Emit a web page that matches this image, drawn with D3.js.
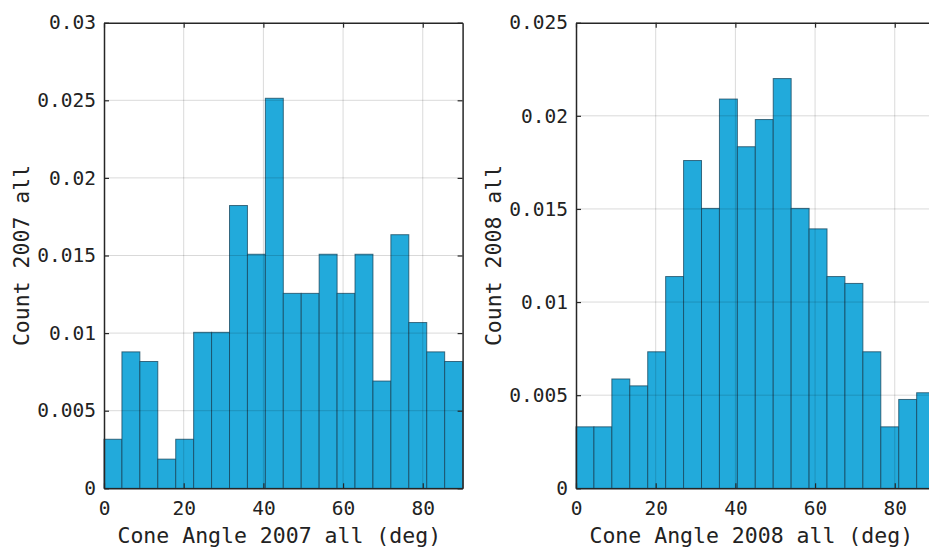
<!DOCTYPE html>
<html>
<head>
<meta charset="utf-8">
<script src="https://cdn.jsdelivr.net/npm/d3@7"></script>
<style>
  html, body { margin: 0; padding: 0; background: #fff; overflow: hidden; }
  svg { display: block; }
  text { font-family: "DejaVu Sans Mono", monospace; fill: #222; }
</style>
</head>
<body>
<div id="chart"></div>
<script>
// Bin edges (deg): 20 bins of 4.5 deg between 0 and 90
const binEdges = d3.range(0, 90.001, 4.5);

// Normalised counts
const values2007 = [
  0.00316, 0.00879, 0.00817, 0.00188, 0.00316, 0.01005, 0.01005, 0.01822,
  0.01508, 0.02513, 0.01256, 0.01256, 0.01508, 0.01256, 0.01508, 0.00691,
  0.01634, 0.01068, 0.00879, 0.00817,
];
const values2008 = [
  0.0033, 0.0033, 0.00587, 0.0055, 0.00733, 0.01137, 0.0176, 0.01503,
  0.0209, 0.01834, 0.0198, 0.022, 0.01503, 0.01393, 0.01137, 0.011,
  0.00733, 0.0033, 0.00477, 0.00513,
];

const xTicks = [0, 20, 40, 60, 80];
const yTicks2007 = [0, 0.005, 0.01, 0.015, 0.02, 0.025, 0.03];
const yTicks2008 = [0, 0.005, 0.01, 0.015, 0.02, 0.025];

const panels = [
  { values: values2007, yMax: 0.03, yTicks: yTicks2007, left: 104,
    yLabel: 'Count 2007 all', xLabel: 'Cone Angle 2007 all (deg)' },
  { values: values2008, yMax: 0.025, yTicks: yTicks2008, left: 576,
    yLabel: 'Count 2008 all', xLabel: 'Cone Angle 2008 all (deg)' },
];

const W = 929, H = 550;
const plotW = 358.6, plotTop = 22.7, plotBottom = 488.3;

const svg = d3.select('#chart')
  .append('svg')
  .attr('width', W)
  .attr('height', H);

const fmt = (d) => (d === 0 ? '0' : String(+d.toFixed(3)));

panels.forEach((p) => {
  const x = d3.scaleLinear().domain([0, 90]).range([p.left, p.left + plotW]);
  const y = d3.scaleLinear().domain([0, p.yMax]).range([plotBottom, plotTop]);

  const g = svg.append('g');

  // Bars
  g.selectAll('rect.bar')
    .data(p.values)
    .join('rect')
    .attr('class', 'bar')
    .attr('x', (d, i) => x(binEdges[i]))
    .attr('width', (d, i) => x(binEdges[i + 1]) - x(binEdges[i]))
    .attr('y', (d) => y(d))
    .attr('height', (d) => plotBottom - y(d))
    .attr('fill', '#22aadb')
    .attr('stroke', '#16435a')
    .attr('stroke-opacity', 0.75)
    .attr('stroke-width', 1);

  // Grid (on top, faint, like the original)
  g.selectAll('line.gx')
    .data(xTicks.slice(1))
    .join('line')
    .attr('class', 'gx')
    .attr('x1', (d) => x(d)).attr('x2', (d) => x(d))
    .attr('y1', plotTop).attr('y2', plotBottom)
    .attr('stroke', '#000').attr('stroke-opacity', 0.15);
  g.selectAll('line.gy')
    .data(p.yTicks.slice(1, -1))
    .join('line')
    .attr('class', 'gy')
    .attr('y1', (d) => y(d)).attr('y2', (d) => y(d))
    .attr('x1', p.left).attr('x2', p.left + plotW)
    .attr('stroke', '#000').attr('stroke-opacity', 0.15);

  // Axes with inward ticks
  const axisB = d3.axisBottom(x).tickValues(xTicks).tickSizeInner(-5).tickSizeOuter(0).tickFormat(fmt).tickPadding(13);
  const axisT = d3.axisTop(x).tickValues(xTicks).tickSizeInner(-5).tickSizeOuter(0).tickFormat('');
  const axisL = d3.axisLeft(y).tickValues(p.yTicks).tickSizeInner(-5).tickSizeOuter(0).tickFormat(fmt).tickPadding(8);
  const axisR = d3.axisRight(y).tickValues(p.yTicks).tickSizeInner(-5).tickSizeOuter(0).tickFormat('');

  const styleAxis = (sel) => {
    sel.select('.domain').attr('stroke', '#262626').attr('stroke-width', 1.5);
    sel.selectAll('.tick line').attr('stroke', '#262626').attr('stroke-width', 1.2);
    sel.selectAll('.tick text')
      .attr('font-size', 19.5)
      .attr('fill', '#222')
      .attr('font-family', '"DejaVu Sans Mono", monospace');
  };

  g.append('g').attr('transform', `translate(0,${plotBottom})`).call(axisB).call(styleAxis);
  g.append('g').attr('transform', `translate(0,${plotTop})`).call(axisT).call(styleAxis);
  g.append('g').attr('transform', `translate(${p.left},0)`).call(axisL).call(styleAxis);
  g.append('g').attr('transform', `translate(${p.left + plotW},0)`).call(axisR).call(styleAxis);

  // Axis labels
  g.append('text')
    .attr('x', p.left + plotW / 2 - 4)
    .attr('y', 543)
    .attr('text-anchor', 'middle')
    .attr('font-size', 21.5)
    .text(p.xLabel);

  g.append('text')
    .attr('transform', `translate(${p.left - 75},${(plotTop + plotBottom) / 2}) rotate(-90)`)
    .attr('text-anchor', 'middle')
    .attr('font-size', 21.5)
    .text(p.yLabel);
});
</script>
</body>
</html>
